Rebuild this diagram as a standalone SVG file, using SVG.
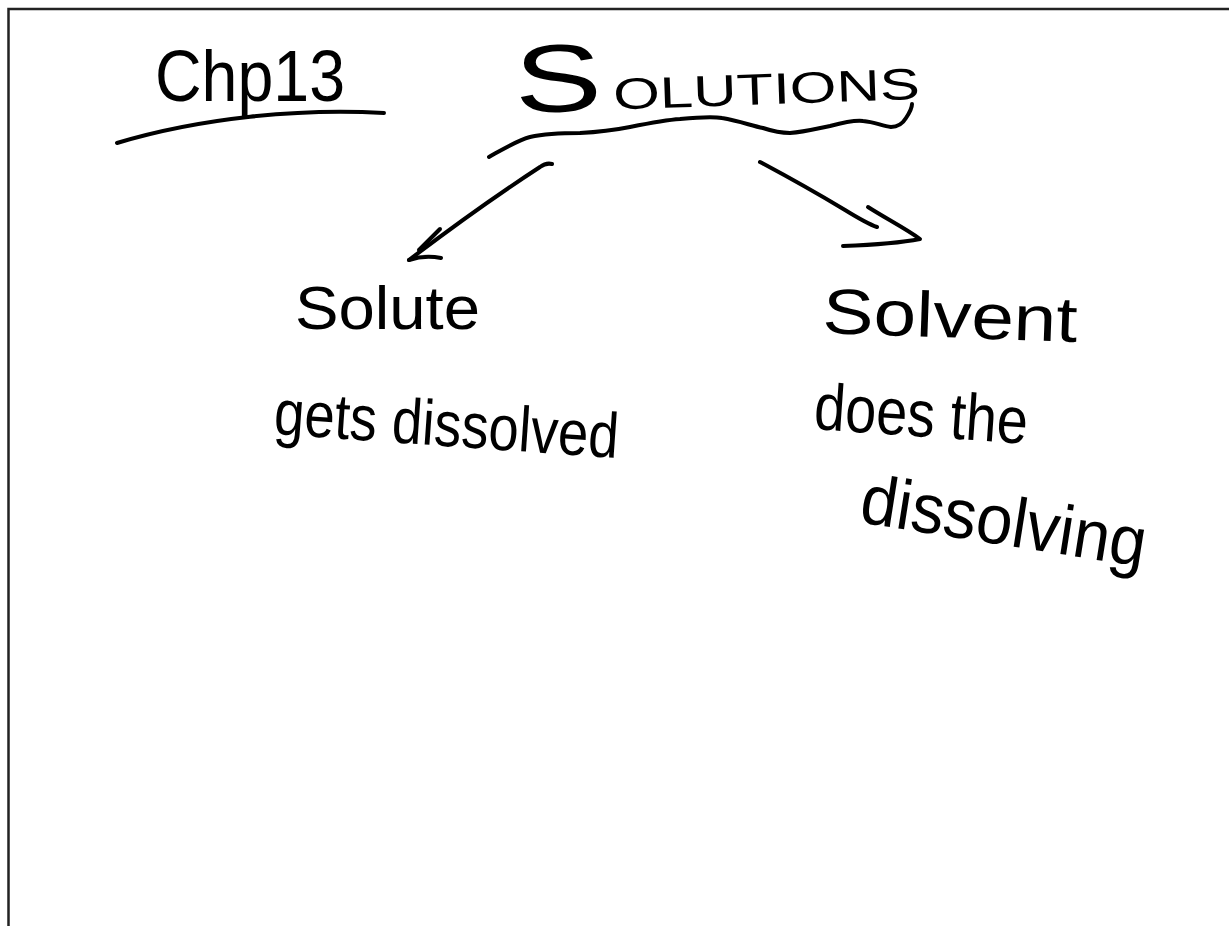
<svg xmlns="http://www.w3.org/2000/svg" width="1229" height="926" viewBox="0 0 1229 926">
  <style>
    .ink { fill: none; stroke: #000; stroke-width: 4; stroke-linecap: round; stroke-linejoin: round; }
    .hand { font-family: "Liberation Sans", "DejaVu Sans", sans-serif; fill: #000; }
    .frame { fill: none; stroke: #222; stroke-width: 2.5; }
  </style>
  <rect width="1229" height="926" fill="#fff"/>
  <path class="frame" d="M1229,9 H8.5 V926"/>

  <g id="chapter">
    <text class="hand" x="155" y="101" font-size="72" textLength="190" lengthAdjust="spacingAndGlyphs">Chp13</text>
    <path class="ink" d="M117,143 C200,118 300,108 384,113"/>
  </g>

  <g id="title">
    <text class="hand" x="515" y="106" textLength="405" lengthAdjust="spacingAndGlyphs" transform="rotate(-2 715 95)"><tspan font-size="96">S</tspan><tspan font-size="44" dx="8">OLUTIONS</tspan></text>
    <path class="ink" d="M489,157 C505,148 518,140 530,137 C548,133 565,133 580,133 C600,132 615,130 630,127 C650,123 665,120 680,119 C700,117 712,116 722,118 C740,121 752,126 763,128 C775,132 782,133 790,133 C805,132 815,129 830,126 C845,122 855,120 863,121 C875,122 882,126 891,127 C898,127 903,123 906,118 C910,112 912,108 912,104"/>
  </g>

  <g id="solute">
    <text class="hand" x="295" y="329" font-size="62" textLength="185" lengthAdjust="spacingAndGlyphs">Solute</text>
    <text class="hand" x="273" y="434" font-size="64" textLength="345" lengthAdjust="spacingAndGlyphs" transform="rotate(4 273 434)">gets dissolved</text>
  </g>

  <g id="solvent">
    <text class="hand" x="822" y="333" font-size="64" textLength="255" lengthAdjust="spacingAndGlyphs" transform="rotate(2 822 333)">Solvent</text>
    <text class="hand" x="813" y="429" font-size="66" textLength="214" lengthAdjust="spacingAndGlyphs" transform="rotate(4 813 429)">does the</text>
    <text class="hand" x="858" y="522" font-size="70" textLength="288" lengthAdjust="spacingAndGlyphs" transform="rotate(9 858 522)">dissolving</text>
  </g>

  <g id="connectors">
    <path class="ink" d="M552,164 C548,163 544,164 540,167 C500,193 455,225 409,260"/>
    <path class="ink" d="M409,260 C418,257 430,256 441,258"/>
    <path class="ink" d="M440,229 L419,250"/>
    <path class="ink" d="M760,162 C790,178 820,195 845,210 C858,218 868,224 877,227"/>
    <path class="ink" d="M868,207 C885,218 905,228 920,239 C900,243 870,245 843,246"/>
  </g>
</svg>
